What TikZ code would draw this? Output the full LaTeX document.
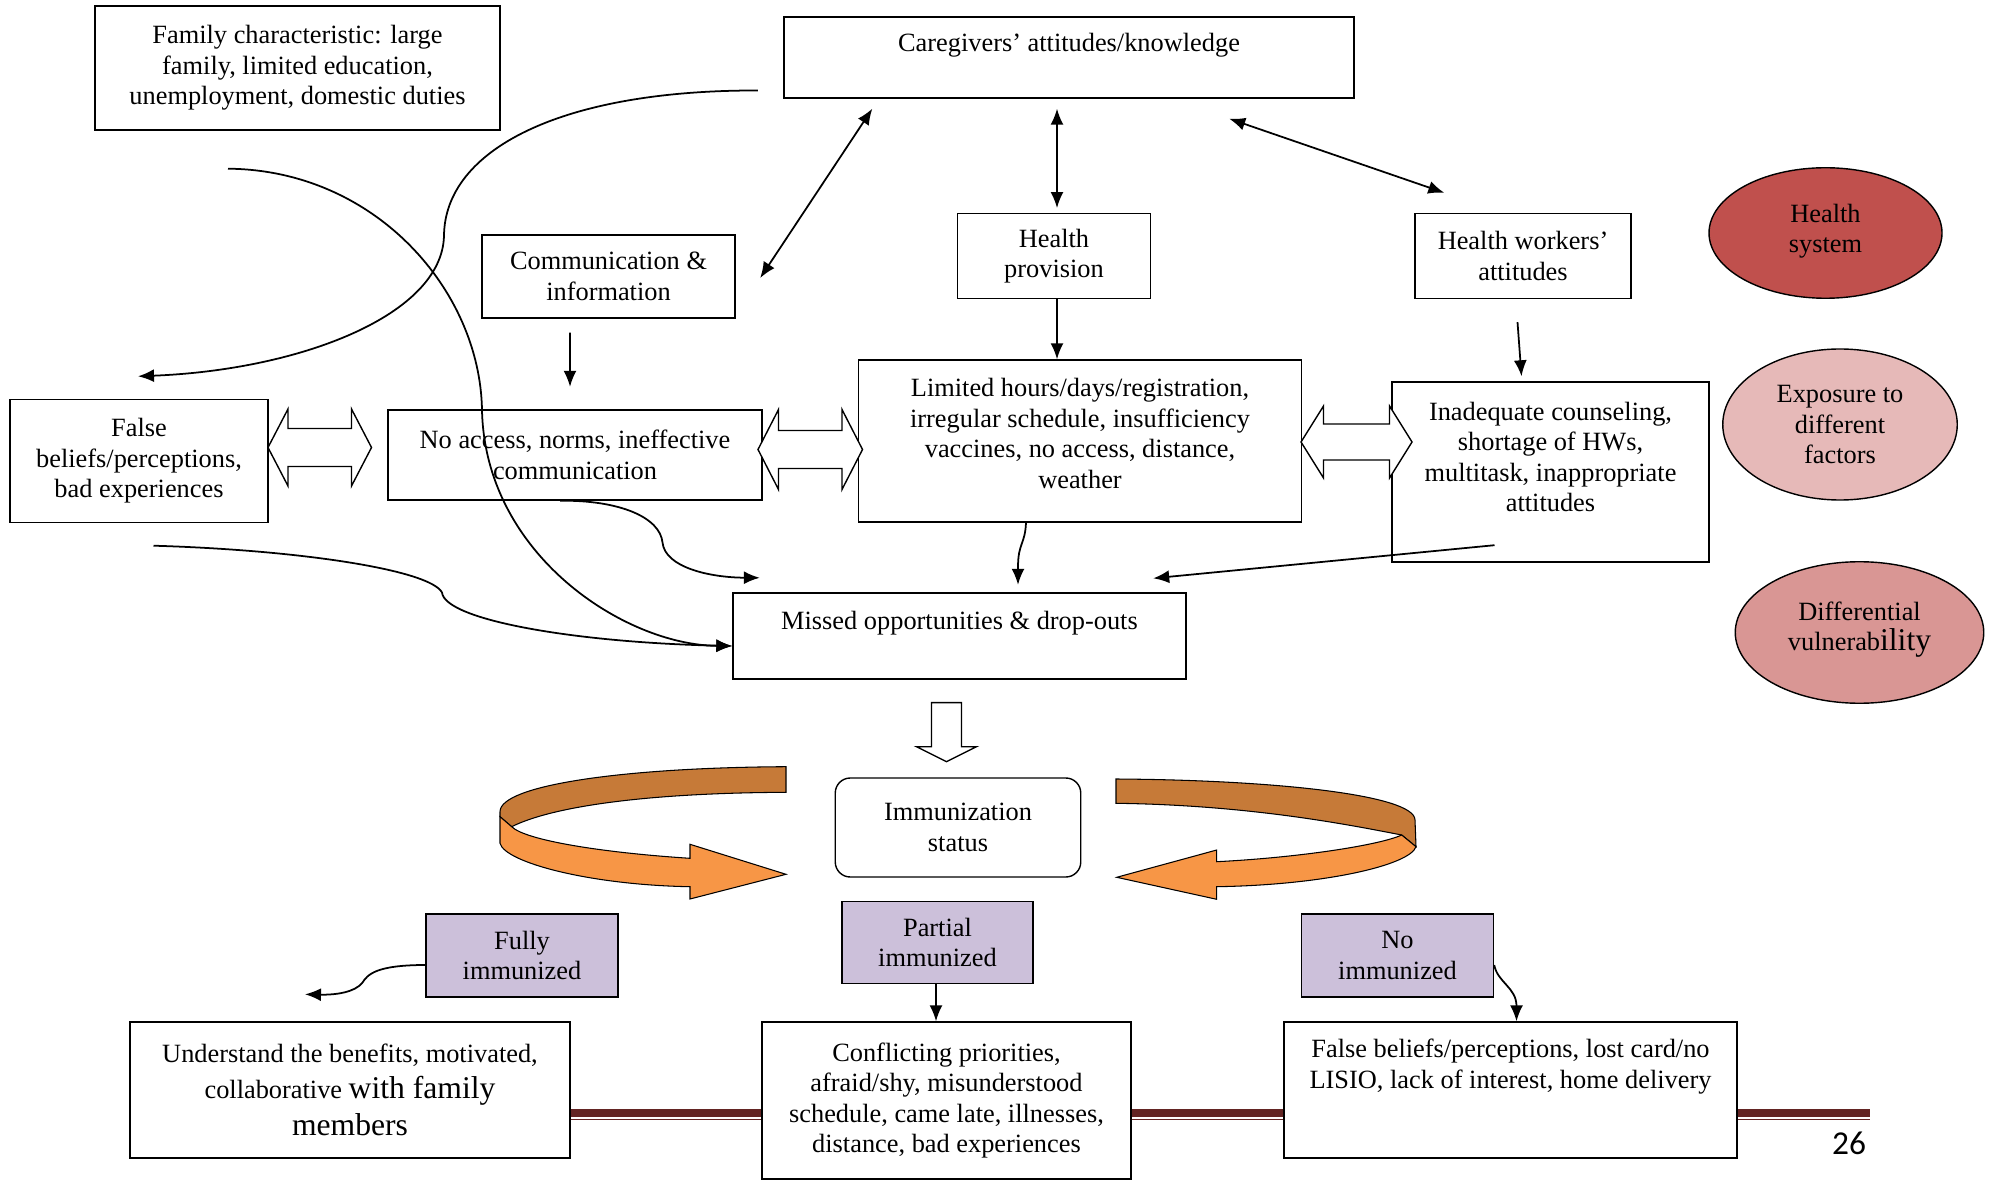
\documentclass[tikz,border=0pt]{standalone}
\usepackage{fontspec}
\setmainfont{Liberation Serif}
\newfontfamily\pagefont{Carlito}
\usetikzlibrary{arrows.meta,shapes.geometric,positioning}

\definecolor{statuspurple}{RGB}{204,192,218}
\definecolor{systemred}{RGB}{192,80,77}
\definecolor{exposurepink}{RGB}{230,185,184}
\definecolor{vulnerpink}{RGB}{217,150,148}
\definecolor{ribbondark}{RGB}{198,122,56}
\definecolor{ribbonlight}{RGB}{247,150,70}
\definecolor{slidered}{RGB}{99,36,35}

\begin{document}
\begin{tikzpicture}
        \useasboundingbox (0,0) rectangle (39.9,23.6);

        % Setup the styles for the boxes, ellipses and arrows
        \tikzset{box style/.style={draw,
                                   line width=0.8pt,
                                   fill=white,
                                   align=center,
                                   inner sep=2pt,
                                   font=\fontsize{15}{17.3}\selectfont},
                 status style/.style={box style, fill=statuspurple},
                 factor style/.style={ellipse, draw,
                                      line width=0.8pt,
                                      align=center,
                                      inner sep=0pt,
                                      font=\fontsize{15}{17.3}\selectfont},
                 link style/.style={line width=1pt,
                                    >={Latex[length=3.2mm,width=2.6mm]}},
                 block style/.style={draw, line width=0.8pt, fill=white},
                 ribbon back/.style={draw, line width=0.6pt, fill=ribbondark},
                 ribbon front/.style={draw, line width=0.6pt, fill=ribbonlight}}

        % Slide lines behind the bottom boxes
        \draw[slidered, line width=0.154cm] (11.4,1.344) -- (37.4,1.344);
        \draw[slidered, line width=0.03cm] (11.4,1.21) -- (37.4,1.21);

        % Draw the boxes
        \node[box style, minimum width=8.1cm, minimum height=2.48cm] at (5.95, 22.24) (fam) {Family characteristic: large\\family, limited education,\\unemployment, domestic duties};
        \node[box style, minimum width=11.4cm, minimum height=1.62cm] at (21.38, 22.45) (care) {Caregivers’ attitudes/knowledge\\~};
        \node[box style, minimum width=5.06cm, minimum height=1.66cm] at (12.17, 18.07) (comm) {Communication \&\\information};
        \node[box style, minimum width=3.85cm, minimum height=1.69cm] at (21.08, 18.48) (hprov) {Health\\provision};
        \node[box style, minimum width=4.32cm, minimum height=1.69cm] at (30.46, 18.48) (hwork) {Health workers’\\attitudes};
        \node[box style, minimum width=5.16cm, minimum height=2.45cm] at (2.78, 14.38) (fbel) {False\\beliefs/perceptions,\\bad experiences};
        \node[box style, minimum width=7.48cm, minimum height=1.8cm] at (11.5, 14.5) (noacc) {No access, norms, ineffective\\communication};
        \node[box style, minimum width=8.85cm, minimum height=3.24cm] at (21.6, 14.78) (limit) {Limited hours/days/registration,\\irregular schedule, insufficiency\\vaccines, no access, distance,\\weather\\[-8.6pt]~};
        \node[box style, minimum width=6.34cm, minimum height=3.6cm] at (31.01, 14.16) (inad) {Inadequate counseling,\\shortage of HWs,\\multitask, inappropriate\\attitudes\\~};
        \node[box style, minimum width=9.06cm, minimum height=1.72cm] at (19.19, 10.88) (missed) {Missed opportunities \& drop-outs\\~};
        \node[box style, rounded corners=0.3cm, minimum width=4.91cm, minimum height=1.98cm] at (19.16, 7.05) (imm) {Immunization\\status};

        \node[status style, minimum width=3.84cm, minimum height=1.66cm] at (10.44, 4.49) (fully) {Fully\\immunized};
        \node[status style, minimum width=3.82cm, minimum height=1.63cm] at (18.75, 4.75) (partial) {Partial\\immunized};
        \node[status style, minimum width=3.84cm, minimum height=1.66cm] at (27.95, 4.49) (noimm) {No\\immunized};

        \node[box style, minimum width=8.8cm, minimum height=2.72cm] at (7.0, 1.8) (under) {Understand the benefits, motivated,\\[3pt]collaborative {\fontsize{18}{20.7}\selectfont with family}\\[4pt]{\fontsize{18}{20.7}\selectfont members}};
        \node[box style, minimum width=7.38cm, minimum height=3.14cm] at (18.93, 1.59) (confl) {Conflicting priorities,\\afraid/shy, misunderstood\\schedule, came late, illnesses,\\distance, bad experiences};
        \node[box style, minimum width=9.06cm, minimum height=2.72cm] at (30.21, 1.8) (lost) {False beliefs/perceptions, lost card/no\\LISIO, lack of interest, home delivery\\[12.7pt]~};

        % Draw the legend ellipses
        \node[factor style, fill=systemred, minimum width=4.66cm, minimum height=2.61cm] at (36.51, 18.94) (hsys) {Health\\system\\[-12pt]~};
        \node[factor style, fill=exposurepink, minimum width=4.69cm, minimum height=3.02cm] at (36.8, 15.11) (expo) {Exposure to\\different\\factors};
        \node[factor style, fill=vulnerpink, minimum width=4.97cm, minimum height=2.83cm] at (37.19, 10.95) (diff) {Differential\\vulnerab{\fontsize{18}{20.7}\selectfont ility}\\[-10pt]~};

        \node[font=\pagefont\fontsize{19}{22}\selectfont] at (36.98, 0.74) (pnum) {26};

        % Connect the boxes with arrows
        \draw[link style, <->] ([shift={(1.78,-0.2)}]care.south west) -- ([shift={(0.49,-0.03)}]comm.east);
        \draw[link style, <->] ([shift={(-0.24,-0.2)}]care.south) -- ([shift={(0.06,0.1)}]hprov.north);
        \draw[link style, <->] ([shift={(-2.51,-0.4)}]care.south east) -- ([shift={(0.6,0.405)}]hwork.north west);
        \draw[link style, ->] ([shift={(-0.51,-0.66)}]care.west) .. controls (11.2,21.8) and (8.9,20.6) .. (8.88,18.89)
                                 .. controls (8.85,17.3) and (6.0,16.2) .. ([shift={(-0.02,0.455)}]fbel.north);
        \draw[link style, ->] ([shift={(-1.39,-0.76)}]fam.south) .. controls (7.5,20.2) and (9.6,17.8) .. (9.64,15.4)
                                 .. controls (9.7,12.5) and (12.5,10.7) .. ([yshift=-0.2cm]missed.west);
        \draw[link style, ->] ([shift={(0.29,-0.455)}]fbel.south) .. controls (6.0,12.6) and (8.6,12.2) .. (8.84,11.75)
                                 .. controls (8.9,11.2) and (11.5,10.75) .. ([yshift=-0.2cm]missed.west);
        \draw[link style, ->] ([xshift=-0.3cm]noacc.south) .. controls (12.4,13.6) and (13.2,13.25) .. (13.25,12.75)
                                 .. controls (13.3,12.25) and (14.2,12.05) .. ([shift={(0.55,0.29)}]missed.north west);
        \draw[link style, ->] ([xshift=0.06cm]hprov.south) -- ([xshift=0.06cm]hprov.south |- limit.north);
        \draw[link style, ->] ([shift={(-0.77,-0.28)}]comm.south) -- ([shift={(-0.1,0.45)}]noacc.north);
        \draw[link style, ->] ([shift={(-0.11,-0.465)}]hwork.south) -- ([shift={(-0.58,0.1)}]inad.north);
        \draw[link style, ->] ([xshift=-1.08cm]limit.south) .. controls (20.5,12.7) and (20.36,12.75) .. (20.36,12.25)
                                 -- ([shift={(1.17,0.15)}]missed.north);
        \draw[link style, ->] ([shift={(-1.12,0.35)}]inad.south) -- ([shift={(-0.67,0.28)}]missed.north east);
        \draw[link style, ->] ([yshift=-0.19cm]fully.west) .. controls (7.5,4.30) and (7.35,4.1) .. (7.25,3.95)
                                 .. controls (7.1,3.75) and (6.7,3.7) .. ([shift={(-0.9,0.54)}]under.north);
        \draw[link style, ->] ([xshift=-0.03cm]partial.south) -- ([xshift=-0.03cm]partial.south |- confl.north);
        \draw[link style, ->] ([yshift=-0.19cm]noimm.east) .. controls (29.95,3.95) and (30.33,3.85) .. ([xshift=0.12cm]lost.north);

        % Block arrows between the middle boxes
        \draw[block style] (5.36,14.65) -- (5.76,15.42) -- (5.76,15.03) -- (7.03,15.03) -- (7.03,15.42) -- (7.43,14.65)
                           -- (7.03,13.88) -- (7.03,14.27) -- (5.76,14.27) -- (5.76,13.88) -- cycle;
        \draw[block style] (15.16,14.61) -- (15.57,15.41) -- (15.57,14.99) -- (16.84,14.99) -- (16.84,15.41) -- (17.25,14.61)
                           -- (16.84,13.81) -- (16.84,14.23) -- (15.57,14.23) -- (15.57,13.81) -- cycle;
        \draw[block style] (26.02,14.76) -- (26.47,15.48) -- (26.47,15.12) -- (27.79,15.12) -- (27.79,15.48) -- (28.24,14.76)
                           -- (27.79,14.04) -- (27.79,14.40) -- (26.47,14.40) -- (26.47,14.04) -- cycle;
        \draw[block style] (18.63,9.546) -- (19.23,9.546) -- (19.23,8.666) -- (19.53,8.666) -- (18.93,8.366)
                           -- (18.33,8.666) -- (18.63,8.666) -- cycle;

        % Curved ribbons round the immunization status
        \draw[ribbon back] (15.72,8.266) .. controls (12.5,8.25) and (10.0,7.9) .. (10.0,7.366) -- (10.0,7.266) -- (10.234,7.066)
                           .. controls (11.0,7.45) and (12.8,7.74) .. (15.72,7.754) -- cycle;
        \draw[ribbon front] (10.0,7.266) -- (10.0,6.734) .. controls (10.1,6.35) and (11.8,5.9) .. (13.8,5.866) -- (13.8,5.62)
                            -- (15.72,6.114) -- (13.8,6.714) -- (13.8,6.434) .. controls (12.0,6.55) and (10.5,6.8) .. (10.234,7.066) -- cycle;
        \draw[ribbon back] (22.32,8.02) .. controls (25.5,8.0) and (28.3,7.7) .. (28.3,7.2) -- (28.32,6.666) -- (28.034,6.9)
                           .. controls (27.0,7.1) and (25.0,7.5) .. (22.32,7.534) -- cycle;
        \draw[ribbon front] (28.034,6.9) -- (28.32,6.666) .. controls (28.2,6.3) and (26.5,5.9) .. (24.334,5.866) -- (24.334,5.614)
                            -- (22.334,6.054) -- (24.334,6.6) -- (24.334,6.366) .. controls (26.0,6.45) and (27.6,6.7) .. (28.034,6.9) -- cycle;
\end{tikzpicture}
\end{document}
